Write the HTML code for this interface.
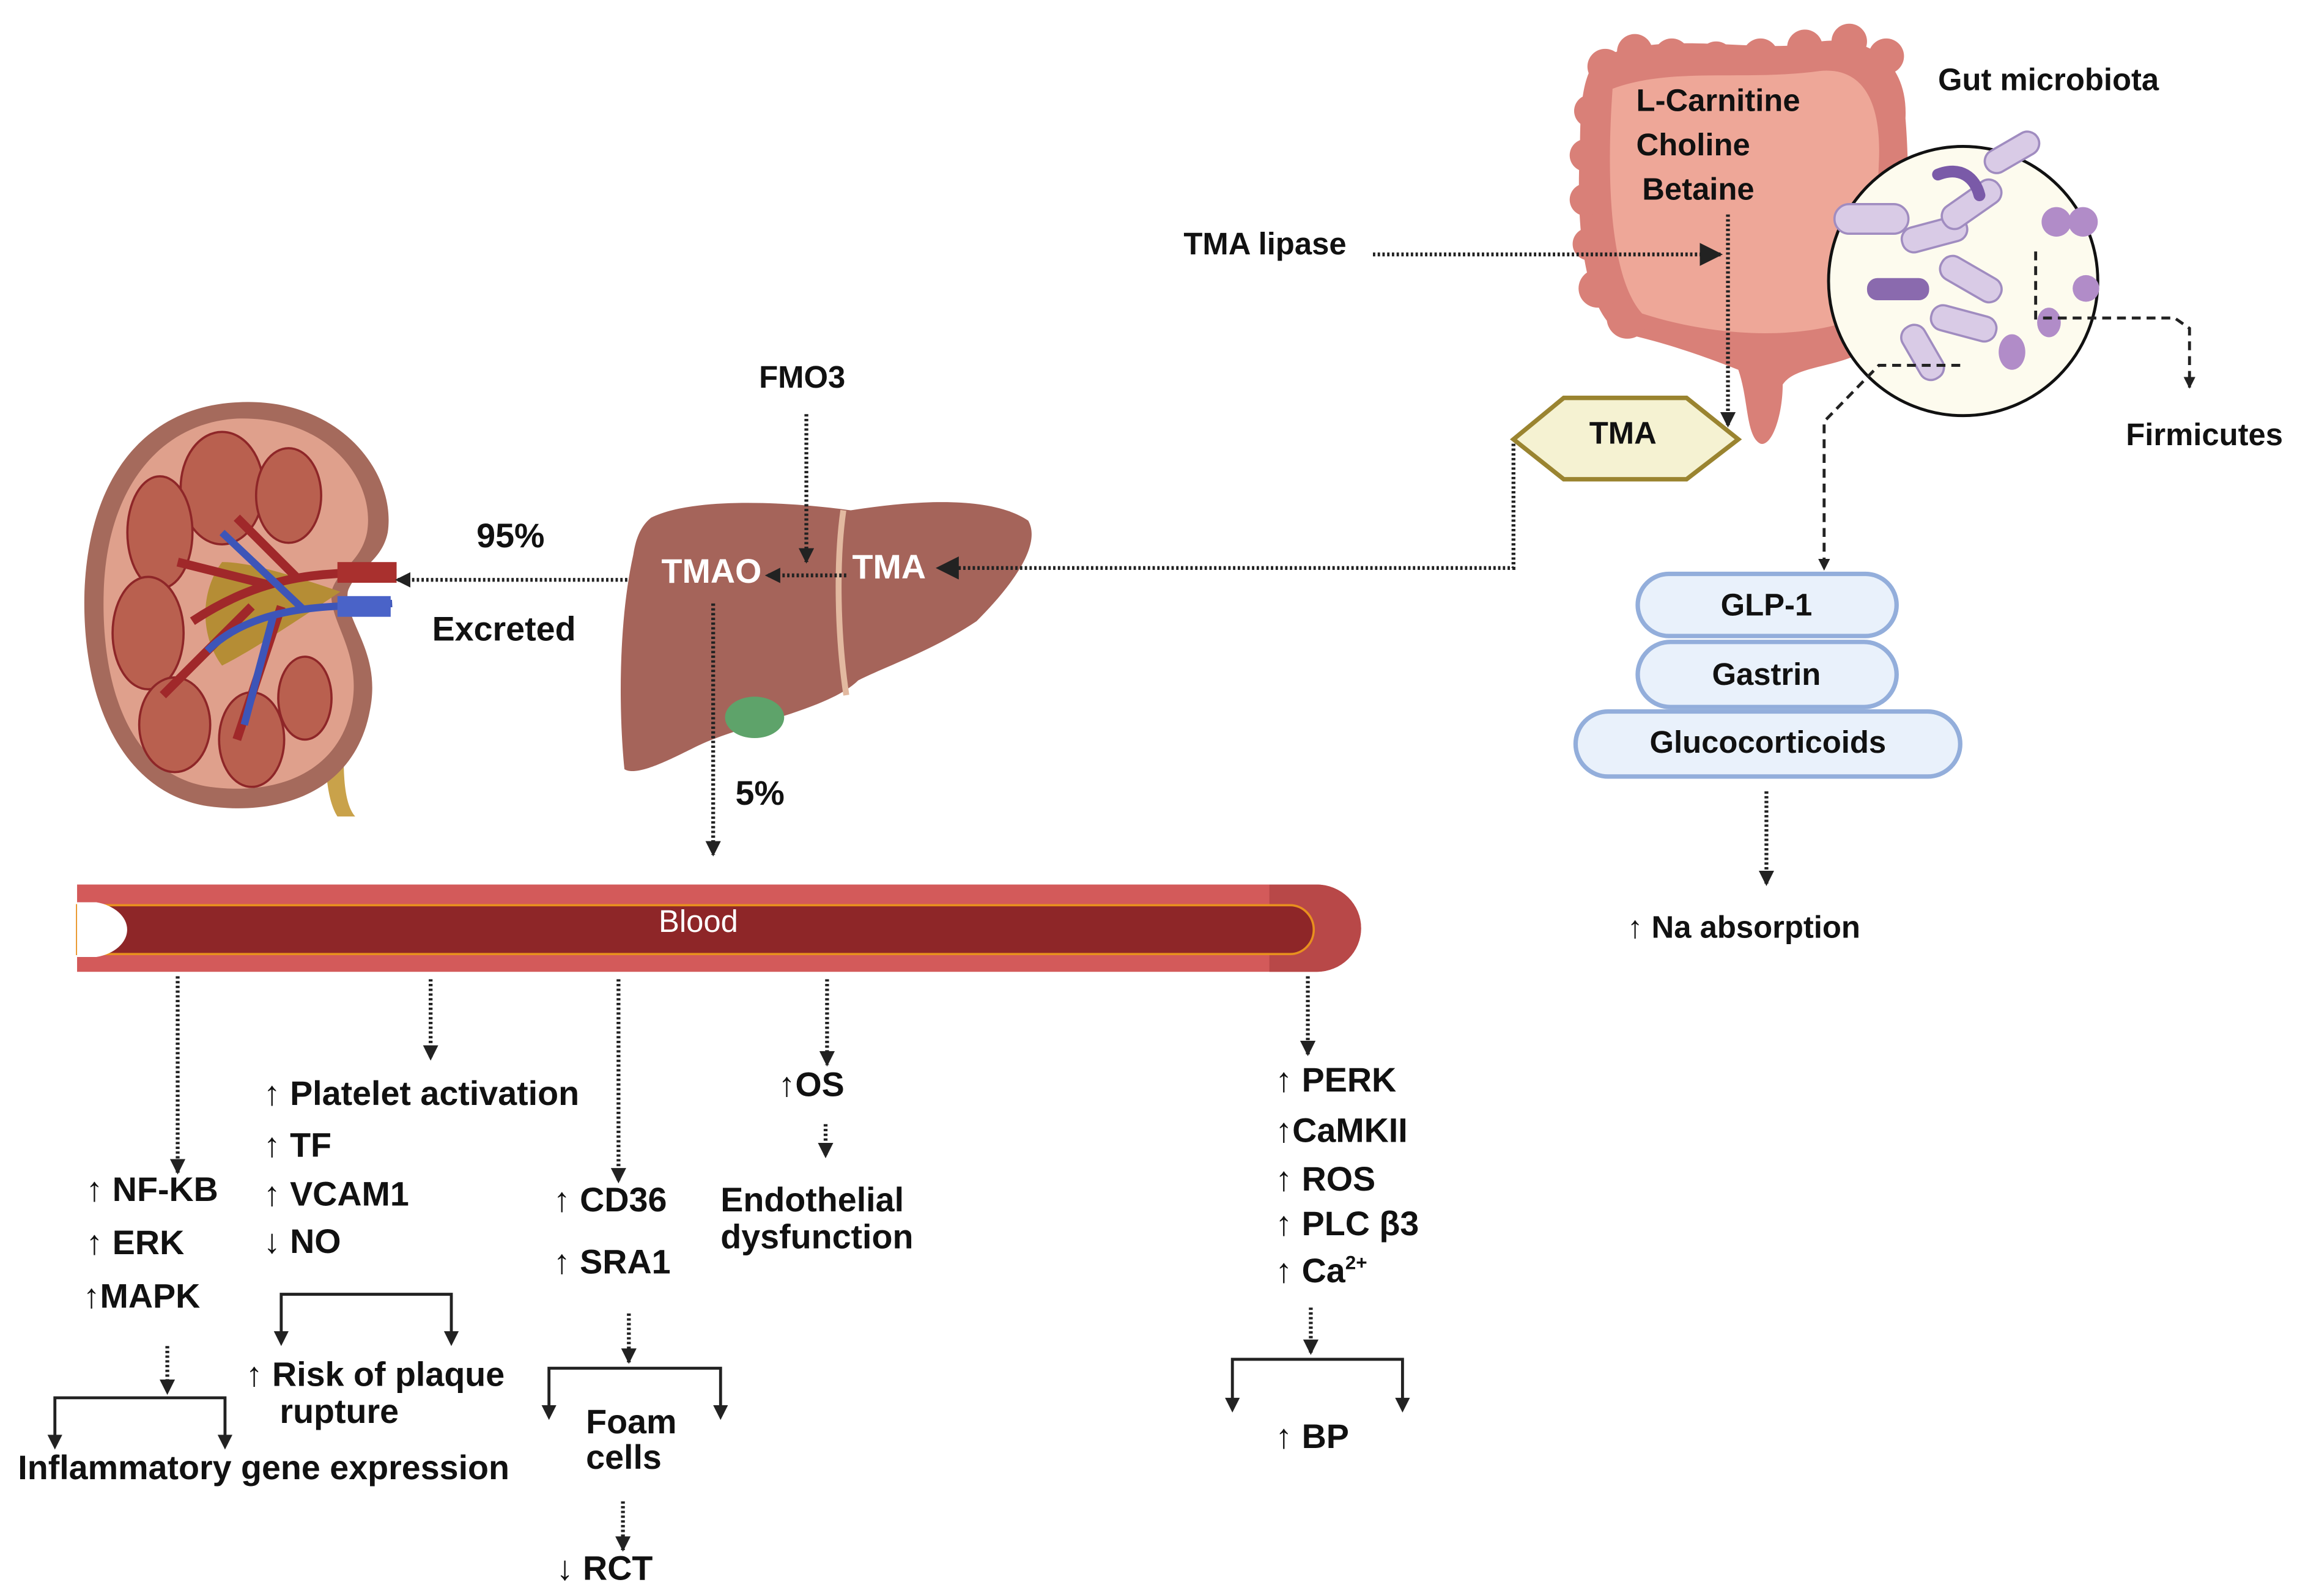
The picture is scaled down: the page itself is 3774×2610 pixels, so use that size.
<!DOCTYPE html>
<html><head><meta charset="utf-8"><style>
html,body{margin:0;padding:0;background:#fff}
svg{display:block}
.t{font-family:"Liberation Sans Narrow","Liberation Sans",sans-serif;font-weight:bold;fill:#111;font-size:23px}
.g{font-family:"Liberation Sans","DejaVu Sans",sans-serif;font-weight:bold;fill:#111;font-size:21px}
.d{stroke:#222;stroke-width:2.6;stroke-dasharray:1.6 1.6;fill:none}
.dl{stroke:#222;stroke-width:2;stroke-dasharray:6 4;fill:none}
.s{stroke:#222;stroke-width:2;fill:none}
</style></head><body>
<svg width="3774" height="2610" viewBox="0 0 1560 1079" xmlns="http://www.w3.org/2000/svg">
<defs>
<marker id="a" viewBox="0 0 10 10" refX="9" refY="5" markerWidth="4" markerHeight="4" orient="auto"><path d="M0,0L10,5L0,10z" fill="#222"/></marker>
<marker id="b" viewBox="0 0 10 10" refX="9" refY="5" markerWidth="6" markerHeight="6" orient="auto"><path d="M0,0L10,5L0,10z" fill="#222"/></marker>
</defs>

<!-- Kidney -->
<path d="M238,412 C236,470 225,535 240,552 L228,552 C214,530 222,470 222,420 Z" fill="#c9a24a"/>
<path d="M160,272 C230,268 268,320 262,360 C258,380 240,385 235,400 C232,420 258,440 250,480 C240,535 190,552 140,545 C80,535 55,470 57,400 C60,320 100,275 160,272 Z" fill="#a56a5c"/>
<path d="M160,283 C222,281 254,325 248,360 C244,380 228,385 224,400 C222,420 244,440 238,476 C230,522 188,538 142,532 C90,525 68,468 70,400 C72,330 108,286 160,283 Z" fill="#dfa08c"/>
<g fill="#b9604f" stroke="#8e2628" stroke-width="1.5">
<ellipse cx="150" cy="330" rx="28" ry="38"/>
<ellipse cx="195" cy="335" rx="22" ry="32"/>
<ellipse cx="108" cy="360" rx="22" ry="38"/>
<ellipse cx="100" cy="428" rx="24" ry="38"/>
<ellipse cx="118" cy="490" rx="24" ry="32"/>
<ellipse cx="170" cy="500" rx="22" ry="32"/>
<ellipse cx="206" cy="472" rx="18" ry="28"/>
</g>
<path d="M150,380 C170,380 200,390 230,400 C200,420 170,440 150,450 C135,430 135,400 150,380Z" fill="#b58d35"/>
<path d="M265,385 L225,388 C190,390 160,400 130,420 M200,390 L160,350 M180,395 L120,380 M170,410 L110,470 M190,410 L160,500" stroke="#a0282a" stroke-width="6" fill="none"/>
<path d="M265,408 L225,410 C190,412 160,420 140,440 M205,412 L150,360 M185,415 L165,490" stroke="#3d55b8" stroke-width="5" fill="none"/>
<rect x="228" y="380" width="40" height="14" fill="#a9302e"/>
<rect x="228" y="403" width="36" height="14" fill="#4a63c8"/>

<text class="t" x="322" y="370">95%</text>
<text class="t" x="292" y="433">Excreted</text>
<line class="d" x1="440" y1="392" x2="268" y2="392" marker-end="url(#a)"/>

<!-- Liver -->
<path d="M440,350 C470,335 540,340 575,345 C620,338 670,335 695,352 C705,370 680,400 660,420 C630,440 600,450 580,460 C560,480 500,490 470,505 C450,515 430,525 422,520 C418,480 418,420 428,375 C430,362 434,355 440,350Z" fill="#a5645a"/>
<ellipse cx="510" cy="485" rx="20" ry="14" fill="#5ea36a"/>
<path d="M570,345 C565,380 566,430 572,470" stroke="#e2b9a0" stroke-width="4" fill="none"/>
<text x="447" y="394" font-family="Liberation Sans Narrow,Liberation Sans,sans-serif" font-weight="bold" font-size="23" fill="#fff">TMAO</text>
<text x="576" y="391" font-family="Liberation Sans Narrow,Liberation Sans,sans-serif" font-weight="bold" font-size="23" fill="#fff">TMA</text>
<text class="g" x="513" y="262">FMO3</text>
<line class="d" x1="545" y1="280" x2="545" y2="380" marker-end="url(#a)"/>
<line class="d" x1="572" y1="389" x2="518" y2="389" marker-end="url(#a)"/>
<polyline class="d" points="1023,300 1023,384 634,384" marker-end="url(#b)"/>
<line class="d" x1="482" y1="408" x2="482" y2="578" marker-end="url(#a)"/>
<text class="t" x="497" y="544">5%</text>

<!-- Intestine -->
<path d="M1080,40 C1120,20 1180,35 1220,30 C1260,20 1290,40 1288,80 C1292,130 1290,200 1270,230 C1250,250 1215,245 1205,260 C1205,280 1198,302 1190,300 C1180,295 1182,270 1175,250 C1150,240 1120,230 1095,225 C1070,210 1065,150 1068,100 C1068,70 1070,50 1080,40Z" fill="#d98078"/>
<g fill="#d98078">
<circle cx="1085" cy="45" r="12"/><circle cx="1105" cy="35" r="12"/><circle cx="1130" cy="38" r="12"/><circle cx="1160" cy="40" r="12"/><circle cx="1190" cy="38" r="12"/><circle cx="1220" cy="32" r="12"/><circle cx="1250" cy="28" r="12"/><circle cx="1275" cy="38" r="12"/>
<circle cx="1075" cy="75" r="11"/><circle cx="1072" cy="105" r="11"/><circle cx="1072" cy="135" r="11"/><circle cx="1074" cy="165" r="11"/><circle cx="1080" cy="195" r="13"/><circle cx="1100" cy="215" r="14"/>
</g>
<path d="M1090,60 C1130,45 1180,55 1230,48 C1260,45 1272,70 1270,110 C1268,160 1265,200 1240,220 C1200,230 1150,225 1110,212 C1090,190 1085,130 1090,60Z" fill="#eea798"/>
<text class="g" x="1106" y="75">L-Carnitine</text>
<text class="g" x="1106" y="105">Choline</text>
<text class="g" x="1110" y="135">Betaine</text>
<text class="g" x="800" y="172">TMA lipase</text>
<line class="d" x1="928" y1="172" x2="1163" y2="172" marker-end="url(#b)"/>
<line class="d" x1="1168" y1="145" x2="1168" y2="288" marker-end="url(#a)"/>
<polygon points="1023,297 1057,269 1140,269 1175,297 1140,324 1057,324" fill="#f5f2d2" stroke="#9a8430" stroke-width="3"/>
<text class="g" x="1097" y="300" text-anchor="middle">TMA</text>

<!-- Microbiota -->
<text class="g" x="1310" y="61">Gut microbiota</text>
<circle cx="1327" cy="190" r="91" fill="#fdfbee" stroke="#111" stroke-width="2"/>
<g fill="#d9cbe6" stroke="#a08cc0" stroke-width="1.5">
<rect x="1240" y="138" width="50" height="20" rx="10"/>
<rect x="1285" y="150" width="45" height="17" rx="8" transform="rotate(-15 1307 158)"/>
<rect x="1310" y="130" width="45" height="17" rx="8" transform="rotate(-35 1332 138)"/>
<rect x="1310" y="180" width="45" height="17" rx="8" transform="rotate(30 1332 188)"/>
<rect x="1305" y="210" width="45" height="17" rx="8" transform="rotate(15 1327 218)"/>
<rect x="1340" y="95" width="40" height="16" rx="8" transform="rotate(-30 1360 103)"/>
<rect x="1280" y="230" width="40" height="17" rx="8" transform="rotate(60 1300 238)"/>
</g>
<rect x="1262" y="188" width="42" height="15" rx="7" fill="#8a6aae"/>
<path d="M1310,118 C1325,112 1335,120 1338,132" stroke="#7a5aa8" stroke-width="8" fill="none" stroke-linecap="round"/>
<g fill="#b18cc8"><circle cx="1390" cy="150" r="10"/><circle cx="1408" cy="150" r="10"/><circle cx="1410" cy="195" r="9"/><ellipse cx="1360" cy="238" rx="9" ry="12"/><ellipse cx="1385" cy="218" rx="8" ry="10"/></g>
<polyline class="dl" points="1376,170 1376,215 1470,215 1480,222 1480,262" marker-end="url(#a)"/>
<text class="g" x="1437" y="301">Firmicutes</text>
<polyline class="dl" points="1325,247 1270,247 1233,285 1233,385" marker-end="url(#a)"/>

<g fill="#e9f1fb" stroke="#93aedb" stroke-width="3">
<rect x="1107" y="388" width="175" height="42" rx="21"/>
<rect x="1107" y="434" width="175" height="44" rx="22"/>
<rect x="1065" y="481" width="260" height="44" rx="22"/>
</g>
<text class="g" x="1194" y="416" text-anchor="middle">GLP-1</text>
<text class="g" x="1194" y="463" text-anchor="middle">Gastrin</text>
<text class="g" x="1195" y="509" text-anchor="middle">Glucocorticoids</text>
<line class="d" x1="1194" y1="535" x2="1194" y2="598" marker-end="url(#a)"/>
<text class="g" x="1100" y="634">↑ Na absorption</text>

<!-- Blood vessel -->
<path d="M52,598 L890,598 A30,29.5 0 0 1 890,657 L52,657 Z" fill="#d35a5a"/>
<path d="M858,598 L890,598 A30,29.5 0 0 1 890,657 L858,657Z" fill="#b84848"/>
<path d="M52,612 L872,612 A16,16.5 0 0 1 872,645 L52,645 Z" fill="#8e2628" stroke="#e8901e" stroke-width="1.5"/>
<path d="M52,610 L65,610 A27,19 0 0 1 65,647 L52,647Z" fill="#fff"/>
<text x="472" y="630" text-anchor="middle" font-family="Liberation Sans,sans-serif" font-size="21" fill="#fff">Blood</text>

<!-- Column 1 -->
<line class="d" x1="120" y1="660" x2="120" y2="793" marker-end="url(#a)"/>
<text class="t" x="58" y="812">↑ NF-KB</text>
<text class="t" x="58" y="848">↑ ERK</text>
<text class="t" x="56" y="884">↑MAPK</text>
<line class="d" x1="113" y1="910" x2="113" y2="942" marker-end="url(#a)"/>
<polyline class="s" points="37,975 37,945 152,945 152,975"/>
<path d="M32,970L37,980L42,970Z M147,970L152,980L157,970Z" fill="#222"/>
<text class="t" x="12" y="1000">Inflammatory gene expression</text>

<!-- Column 2 -->
<line class="d" x1="291" y1="662" x2="291" y2="716" marker-end="url(#a)"/>
<text class="t" x="178" y="747">↑ Platelet activation</text>
<text class="t" x="178" y="782">↑ TF</text>
<text class="t" x="178" y="815">↑ VCAM1</text>
<text class="t" x="178" y="847">↓ NO</text>
<polyline class="s" points="190,905 190,875 305,875 305,905"/>
<path d="M185,900L190,910L195,900Z M300,900L305,910L310,900Z" fill="#222"/>
<text class="t" x="166" y="937">↑ Risk of plaque</text>
<text class="t" x="189" y="962">rupture</text>

<!-- Column 3 -->
<line class="d" x1="418" y1="662" x2="418" y2="799" marker-end="url(#a)"/>
<text class="t" x="374" y="819">↑ CD36</text>
<text class="t" x="374" y="861">↑ SRA1</text>
<line class="d" x1="425" y1="888" x2="425" y2="921" marker-end="url(#a)"/>
<polyline class="s" points="371,955 371,925 487,925 487,955"/>
<path d="M366,950L371,960L376,950Z M482,950L487,960L492,950Z" fill="#222"/>
<text class="t" x="396" y="969">Foam</text>
<text class="t" x="396" y="993">cells</text>
<line class="d" x1="421" y1="1015" x2="421" y2="1048" marker-end="url(#a)"/>
<text class="t" x="376" y="1068">↓ RCT</text>

<!-- Column 4 -->
<line class="d" x1="559" y1="662" x2="559" y2="720" marker-end="url(#a)"/>
<text class="t" x="526" y="741">↑OS</text>
<line class="d" x1="558" y1="760" x2="558" y2="782" marker-end="url(#a)"/>
<text class="t" x="487" y="819">Endothelial</text>
<text class="t" x="487" y="844">dysfunction</text>

<!-- Column 5 -->
<line class="d" x1="884" y1="660" x2="884" y2="713" marker-end="url(#a)"/>
<text class="t" x="862" y="738">↑ PERK</text>
<text class="t" x="862" y="772">↑CaMKII</text>
<text class="t" x="862" y="805">↑ ROS</text>
<text class="t" x="862" y="835">↑ PLC β3</text>
<text class="t" x="862" y="867">↑ Ca<tspan font-size="13" dy="-9">2+</tspan></text>
<line class="d" x1="886" y1="884" x2="886" y2="915" marker-end="url(#a)"/>
<polyline class="s" points="833,950 833,919 948,919 948,950"/>
<path d="M828,945L833,955L838,945Z M943,945L948,955L953,945Z" fill="#222"/>
<text class="t" x="862" y="979">↑ BP</text>
</svg>
</body></html>
